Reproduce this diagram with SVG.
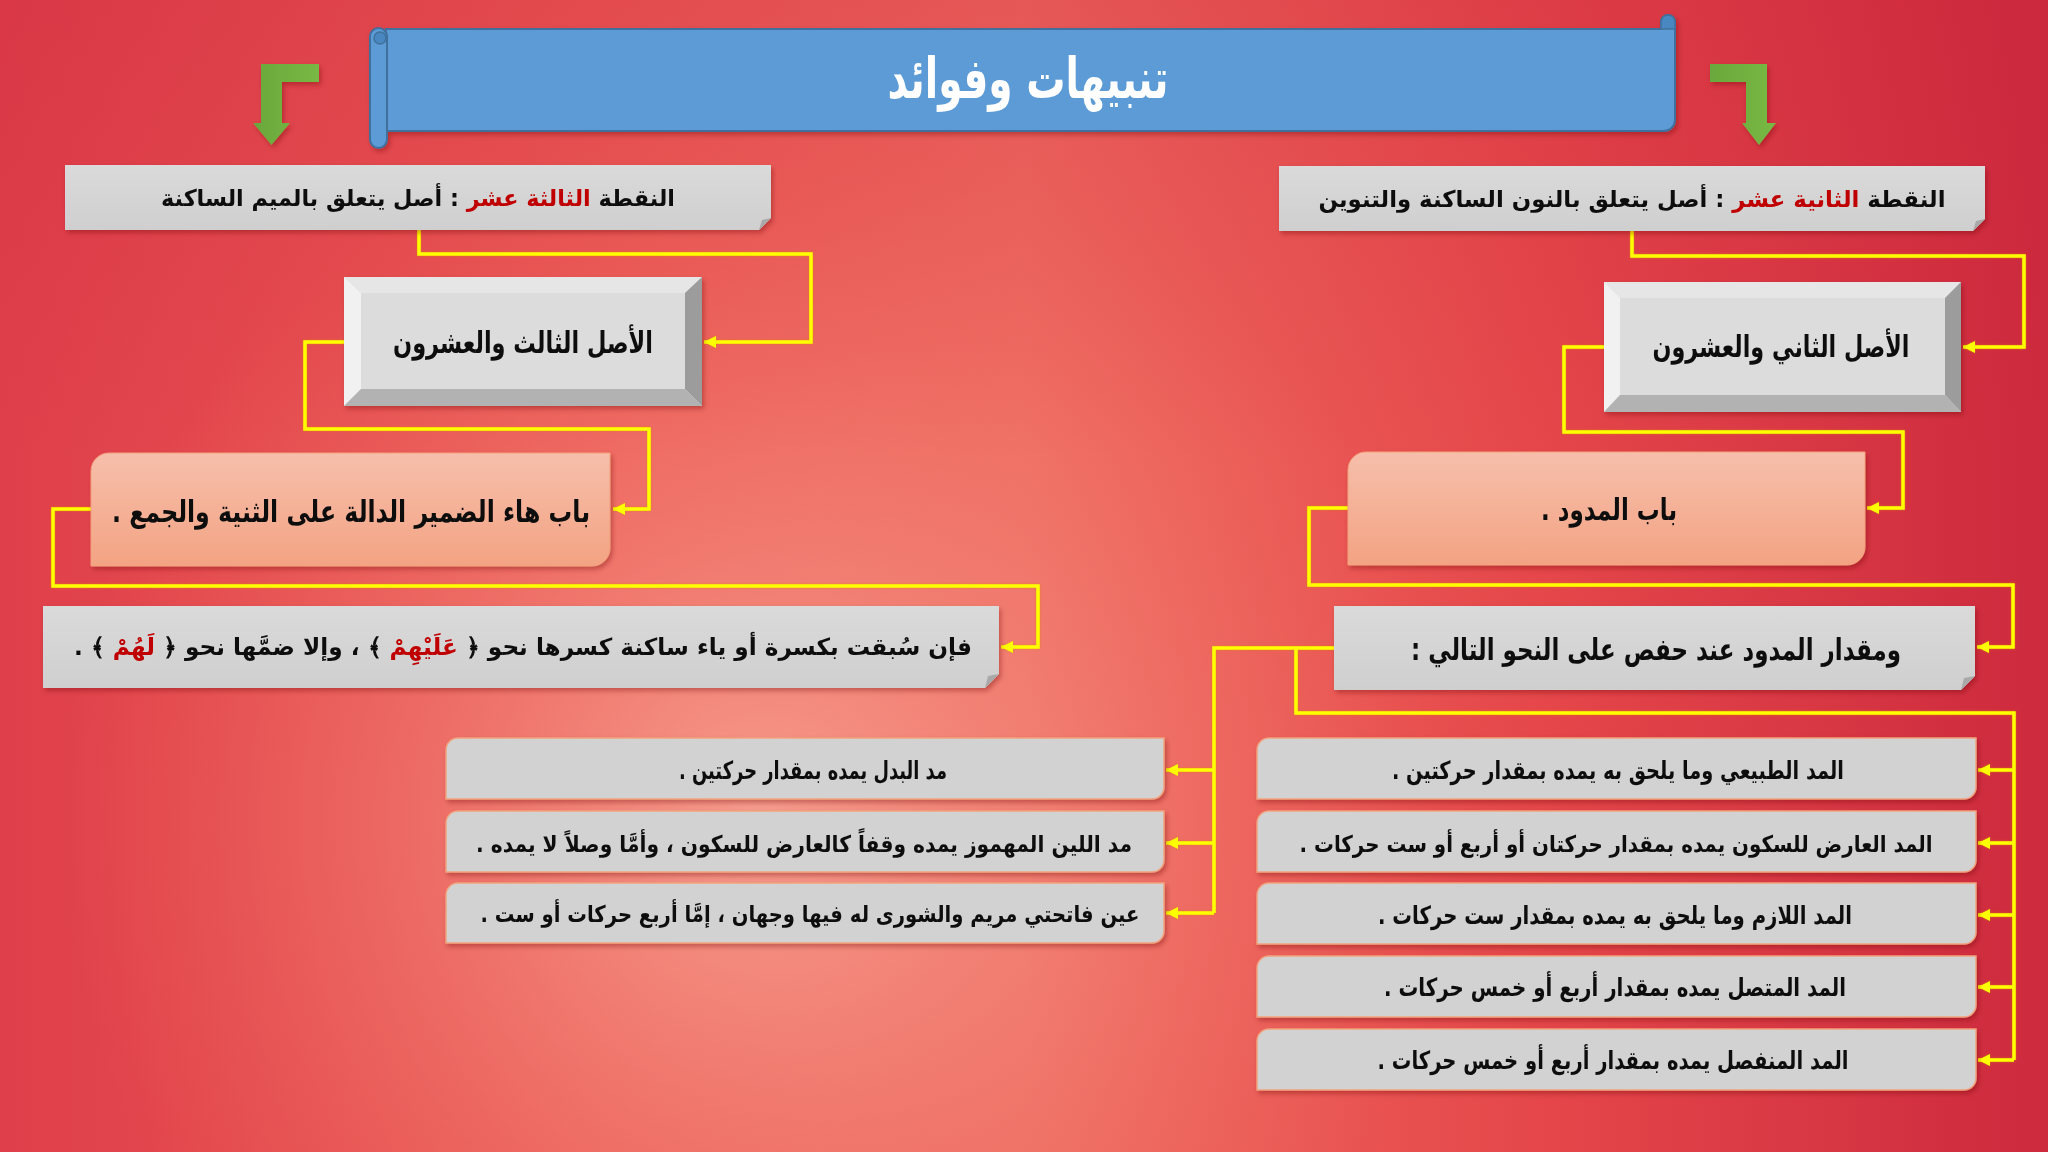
<svg xmlns="http://www.w3.org/2000/svg" width="2048" height="1152" viewBox="0 0 2048 1152">
<defs>
  <linearGradient id="bgLin" x1="0" y1="0" x2="1" y2="0">
    <stop offset="0" stop-color="#df3f4a"/>
    <stop offset="0.3" stop-color="#ec5a55"/>
    <stop offset="0.5" stop-color="#ef6a60"/>
    <stop offset="0.75" stop-color="#e5474a"/>
    <stop offset="1" stop-color="#cd2a3e"/>
  </linearGradient>
  <radialGradient id="bgGlow" cx="760" cy="820" r="700" gradientUnits="userSpaceOnUse">
    <stop offset="0" stop-color="#f8a898" stop-opacity="0.85"/>
    <stop offset="0.5" stop-color="#f38a7c" stop-opacity="0.45"/>
    <stop offset="1" stop-color="#f07060" stop-opacity="0"/>
  </radialGradient>
  <linearGradient id="bgTop" x1="0" y1="0" x2="0" y2="1">
    <stop offset="0" stop-color="#c8203a" stop-opacity="0.25"/>
    <stop offset="0.4" stop-color="#c8203a" stop-opacity="0"/>
  </linearGradient>
  <linearGradient id="peach" x1="0" y1="0" x2="0" y2="1">
    <stop offset="0" stop-color="#f6bfab"/>
    <stop offset="1" stop-color="#f3a383"/>
  </linearGradient>
  <linearGradient id="grayG" x1="0" y1="0" x2="0" y2="1">
    <stop offset="0" stop-color="#dadada"/>
    <stop offset="1" stop-color="#cfcfcf"/>
  </linearGradient>
  <linearGradient id="greenG" x1="0" y1="0" x2="1" y2="0">
    <stop offset="0" stop-color="#6aa83c"/>
    <stop offset="1" stop-color="#78b844"/>
  </linearGradient>
  <filter id="shadow" x="-10%" y="-10%" width="120%" height="130%">
    <feDropShadow dx="2" dy="3" stdDeviation="2.5" flood-color="#6a1010" flood-opacity="0.35"/>
  </filter>
  <filter id="lineGlow" x="-5%" y="-5%" width="110%" height="110%">
    <feDropShadow dx="0" dy="0" stdDeviation="0.8" flood-color="#e08000" flood-opacity="0.7"/>
  </filter>
  <marker id="arr" markerUnits="userSpaceOnUse" markerWidth="14" markerHeight="14" refX="12" refY="6" orient="auto">
    <path d="M0,0 L12,6 L0,12 Z" fill="#ffff00"/>
  </marker>
  <style>
    .t { font-family: "DejaVu Sans", "Liberation Sans", sans-serif; font-weight: bold; fill: #111; text-anchor: middle; direction: rtl; }
    .red { fill: #c00000; }
    .box { fill: url(#grayG); }
    .fold { fill: #a9a9a9; }
    .item { fill: #d2d2d2; stroke: #f2a27e; stroke-width: 1.5; }
    .peach { fill: url(#peach); stroke: #f4a07c; stroke-width: 1; }
    .con { fill: none; stroke: #ffff00; stroke-width: 3.5; stroke-linejoin: miter; }
    .arrow { fill: url(#greenG); }
  </style>
</defs>

<rect x="0" y="0" width="2048" height="1152" fill="url(#bgLin)"/>
<rect x="0" y="0" width="2048" height="1152" fill="url(#bgGlow)"/>
<rect x="0" y="0" width="2048" height="1152" fill="url(#bgTop)"/>

<!-- Title banner -->
<g id="title" filter="url(#shadow)">
  <path d="M1661,22 a7,7 0 0 1 14,0 V120 a11,11 0 0 1 -11,11 H386 V29 H1661 Z" fill="#5b9bd5" stroke="#41719c" stroke-width="2"/>
  <path d="M1661,22 a7,7 0 0 1 14,0 V29 H1661 Z" fill="#4a87c0" stroke="#41719c" stroke-width="1.5"/>
  <rect x="370" y="28" width="17" height="120" rx="8.5" fill="#5b9bd5" stroke="#41719c" stroke-width="2"/>
  <circle cx="380" cy="38" r="6" fill="#4a87c0" stroke="#41719c" stroke-width="1.5"/>
  <text class="t" x="1028" y="98" font-size="56" textLength="281" lengthAdjust="spacingAndGlyphs" style="fill:#ffffff">تنبيهات وفوائد</text>
</g>

<!-- Green bent arrows -->
<g id="arrowLeft" filter="url(#shadow)">
  <path class="arrow" d="M319,64 V82 H282 V123 H290 L271.5,145 L253,123 H261 V64 Z"/>
</g>
<g id="arrowRight" filter="url(#shadow)">
  <path class="arrow" d="M1710,64 V82 H1746 V123 H1742 L1759,145 L1776,123 H1767 V64 Z"/>
</g>

<!-- Connectors -->
<g id="connectors" filter="url(#lineGlow)">
  <path class="con" d="M419,230 V254 H811 V342 H704" marker-end="url(#arr)"/>
  <path class="con" d="M344,342 H305 V429 H649 V509 H613" marker-end="url(#arr)"/>
  <path class="con" d="M91,509 H53 V586 H1038 V647 H1001" marker-end="url(#arr)"/>

  <path class="con" d="M1632,231 V256 H2024 V347 H1963" marker-end="url(#arr)"/>
  <path class="con" d="M1604,347 H1564 V432 H1903 V508 H1867" marker-end="url(#arr)"/>
  <path class="con" d="M1348,508 H1309 V585 H2013 V647 H1977" marker-end="url(#arr)"/>

  <path class="con" d="M1334,648 H1214 V913"/>
  <path class="con" d="M1214,770 H1166" marker-end="url(#arr)"/>
  <path class="con" d="M1214,843 H1166" marker-end="url(#arr)"/>
  <path class="con" d="M1214,913 H1166" marker-end="url(#arr)"/>

  <path class="con" d="M1296,648 V713 H2014 V1060"/>
  <path class="con" d="M2014,770 H1978" marker-end="url(#arr)"/>
  <path class="con" d="M2014,843 H1978" marker-end="url(#arr)"/>
  <path class="con" d="M2014,915 H1978" marker-end="url(#arr)"/>
  <path class="con" d="M2014,987 H1978" marker-end="url(#arr)"/>
  <path class="con" d="M2014,1060 H1978" marker-end="url(#arr)"/>
</g>

<!-- Left column -->
<g id="headLeft" filter="url(#shadow)">
  <path class="box" d="M65,165 H771 V218 L759,230 H65 Z"/>
  <path class="fold" d="M771,218 L759,230 L762,220 Z"/>
  <text class="t" x="418" y="206" font-size="23" textLength="514" lengthAdjust="spacingAndGlyphs">النقطة <tspan class="red">الثالثة عشر</tspan> : أصل يتعلق بالميم الساكنة</text>
</g>

<g id="bevelLeft" filter="url(#shadow)">
  <rect x="344" y="277" width="358" height="129" fill="#dcdcdc"/>
  <path d="M344,277 H702 L685,293 H361 Z" fill="#e6e6e6"/>
  <path d="M344,277 L361,293 V389 L344,406 Z" fill="#f1f1f1"/>
  <path d="M702,277 V406 L685,389 V293 Z" fill="#9c9c9c"/>
  <path d="M344,406 L361,389 H685 L702,406 Z" fill="#b2b2b2"/>
  <text class="t" x="523" y="353" font-size="30" textLength="260" lengthAdjust="spacingAndGlyphs">الأصل الثالث والعشرون</text>
</g>

<g id="babLeft" filter="url(#shadow)">
  <path class="peach" d="M109,453 H610 V548 A18,18 0 0 1 592,566 H91 V471 A18,18 0 0 1 109,453 Z"/>
  <text class="t" x="351" y="522" font-size="30" textLength="478" lengthAdjust="spacingAndGlyphs">باب هاء الضمير الدالة على الثنية والجمع .</text>
</g>

<g id="ruleLeft" filter="url(#shadow)">
  <path class="box" d="M43,606 H999 V674 L985,688 H43 Z"/>
  <path class="fold" d="M999,674 L985,688 L988,676 Z"/>
  <text class="t" x="523" y="655" font-size="23.5" textLength="898" lengthAdjust="spacingAndGlyphs">فإن سُبقت بكسرة أو ياء ساكنة كسرها نحو ﴿ <tspan class="red">عَلَيْهِمْ</tspan> ﴾ ، وإلا ضمَّها نحو ﴿ <tspan class="red">لَهُمْ</tspan> ﴾ .</text>
</g>

<!-- Right column -->
<g id="headRight" filter="url(#shadow)">
  <path class="box" d="M1279,166 H1985 V219 L1973,231 H1279 Z"/>
  <path class="fold" d="M1985,219 L1973,231 L1976,221 Z"/>
  <text class="t" x="1632" y="207" font-size="23" textLength="627" lengthAdjust="spacingAndGlyphs">النقطة <tspan class="red">الثانية عشر</tspan> : أصل يتعلق بالنون الساكنة والتنوين</text>
</g>

<g id="bevelRight" filter="url(#shadow)">
  <rect x="1604" y="282" width="357" height="130" fill="#dcdcdc"/>
  <path d="M1604,282 H1961 L1945,298 H1620 Z" fill="#e6e6e6"/>
  <path d="M1604,282 L1620,298 V395 L1604,412 Z" fill="#f1f1f1"/>
  <path d="M1961,282 V412 L1945,395 V298 Z" fill="#9c9c9c"/>
  <path d="M1604,412 L1620,395 H1945 L1961,412 Z" fill="#b2b2b2"/>
  <text class="t" x="1781" y="357" font-size="30" textLength="257" lengthAdjust="spacingAndGlyphs">الأصل الثاني والعشرون</text>
</g>

<g id="babRight" filter="url(#shadow)">
  <path class="peach" d="M1366,452 H1865 V547 A18,18 0 0 1 1847,565 H1348 V470 A18,18 0 0 1 1366,452 Z"/>
  <text class="t" x="1609" y="520" font-size="30" textLength="136" lengthAdjust="spacingAndGlyphs">باب المدود .</text>
</g>

<g id="miqdar" filter="url(#shadow)">
  <path class="box" d="M1334,606 H1975 V676 L1961,690 H1334 Z"/>
  <path class="fold" d="M1975,676 L1961,690 L1964,678 Z"/>
  <text class="t" x="1656" y="660" font-size="30" textLength="490" lengthAdjust="spacingAndGlyphs">ومقدار المدود عند حفص على النحو التالي :</text>
</g>

<!-- Left list -->
<g id="itemL1" filter="url(#shadow)">
  <path class="item" d="M458,738 H1164 V787 A12,12 0 0 1 1152,799 H446 V750 A12,12 0 0 1 458,738 Z"/>
  <text class="t" x="813" y="779" font-size="25" textLength="268" lengthAdjust="spacingAndGlyphs">مد البدل يمده بمقدار حركتين .</text>
</g>
<g id="itemL2" filter="url(#shadow)">
  <path class="item" d="M458,811 H1164 V860 A12,12 0 0 1 1152,872 H446 V823 A12,12 0 0 1 458,811 Z"/>
  <text class="t" x="804" y="852" font-size="23" textLength="656" lengthAdjust="spacingAndGlyphs">مد اللين المهموز يمده وقفاً كالعارض للسكون ، وأمَّا وصلاً لا يمده .</text>
</g>
<g id="itemL3" filter="url(#shadow)">
  <path class="item" d="M458,883 H1164 V931 A12,12 0 0 1 1152,943 H446 V895 A12,12 0 0 1 458,883 Z"/>
  <text class="t" x="810" y="922" font-size="23" textLength="659" lengthAdjust="spacingAndGlyphs">عين فاتحتي مريم والشورى له فيها وجهان ، إمَّا أربع حركات أو ست .</text>
</g>

<!-- Right list -->
<g id="itemR1" filter="url(#shadow)">
  <path class="item" d="M1269,738 H1976 V787 A12,12 0 0 1 1964,799 H1257 V750 A12,12 0 0 1 1269,738 Z"/>
  <text class="t" x="1618" y="779" font-size="25" textLength="452" lengthAdjust="spacingAndGlyphs">المد الطبيعي وما يلحق به يمده بمقدار حركتين .</text>
</g>
<g id="itemR2" filter="url(#shadow)">
  <path class="item" d="M1269,811 H1976 V860 A12,12 0 0 1 1964,872 H1257 V823 A12,12 0 0 1 1269,811 Z"/>
  <text class="t" x="1616" y="852" font-size="23" textLength="633" lengthAdjust="spacingAndGlyphs">المد العارض للسكون يمده بمقدار حركتان أو أربع أو ست حركات .</text>
</g>
<g id="itemR3" filter="url(#shadow)">
  <path class="item" d="M1269,883 H1976 V932 A12,12 0 0 1 1964,944 H1257 V895 A12,12 0 0 1 1269,883 Z"/>
  <text class="t" x="1615" y="924" font-size="25" textLength="474" lengthAdjust="spacingAndGlyphs">المد اللازم وما يلحق به يمده بمقدار ست حركات .</text>
</g>
<g id="itemR4" filter="url(#shadow)">
  <path class="item" d="M1269,956 H1976 V1005 A12,12 0 0 1 1964,1017 H1257 V968 A12,12 0 0 1 1269,956 Z"/>
  <text class="t" x="1615" y="996" font-size="25" textLength="462" lengthAdjust="spacingAndGlyphs">المد المتصل يمده بمقدار أربع أو خمس حركات .</text>
</g>
<g id="itemR5" filter="url(#shadow)">
  <path class="item" d="M1269,1029 H1976 V1078 A12,12 0 0 1 1964,1090 H1257 V1041 A12,12 0 0 1 1269,1029 Z"/>
  <text class="t" x="1613" y="1069" font-size="25" textLength="471" lengthAdjust="spacingAndGlyphs">المد المنفصل يمده بمقدار أربع أو خمس حركات .</text>
</g>
</svg>
